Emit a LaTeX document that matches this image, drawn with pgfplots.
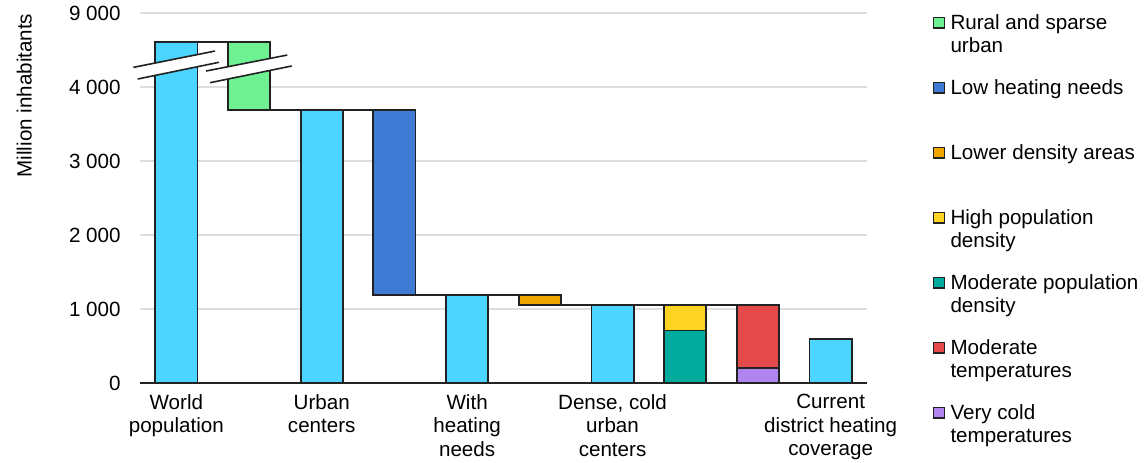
\documentclass[border=0pt]{standalone}
\usepackage{fontspec}
\setmainfont{Liberation Sans}
\usepackage{pgfplots}
\pgfplotsset{compat=1.18}
\usepackage{pgfplotstable}

\definecolor{totalcyan}{HTML}{4CD5FF}
\definecolor{ruralgreen}{HTML}{6EF193}
\definecolor{lowblue}{HTML}{3F7BD5}
\definecolor{densorange}{HTML}{F0A800}
\definecolor{highyellow}{HTML}{FDD423}
\definecolor{modteal}{HTML}{00AA9C}
\definecolor{tempred}{HTML}{E44A4A}
\definecolor{coldpurple}{HTML}{B086EE}
\definecolor{edge}{HTML}{222222}
\definecolor{gridgray}{HTML}{DEDEDE}

% Waterfall steps (million inhabitants; values above 4000 sit on the compressed
% part of the axis, where the top gridline stands for 9000)
\pgfplotstableread{
x base  total rural lowheat lowdens moddens highdens verycold modtemp
0 0     4610  0     0       0       0       0        0        0
1 3690  0     920   0       0       0       0        0        0
2 0     3690  0     0       0       0       0        0        0
3 1190  0     0     2500    0       0       0        0        0
4 0     1190  0     0       0       0       0        0        0
5 1050  0     0     0       140     0       0        0        0
6 0     1050  0     0       0       0       0        0        0
7 0     0     0     0       0       710     340      0        0
8 0     0     0     0       0       0       0        200      850
9 0     595   0     0       0       0       0        0        0
}\steps

\newcommand\entry[1]{\begin{tabular}[t]{@{}l@{}}#1\end{tabular}}

\begin{document}
\fontsize{10.3}{11.75}\selectfont
\begin{tikzpicture}
\begin{axis}[
  name=main,
  scale only axis, width=363.5pt, height=185pt,
  xmin=-0.5, xmax=9.5, ymin=0, ymax=5000,
  ybar stacked, bar width=0.58,
  reverse stacked plots=false,
  axis x line*=bottom, axis y line*=left,
  y axis line style={draw=none},
  x axis line style={draw=edge, line width=0.9pt},
  xtick={0,2,4,6,9},
  xticklabels={{World\\population},{Urban\\centers},{With\\heating\\needs},{Dense, cold\\urban\\centers},{Current\\district heating\\coverage}},
  xticklabel style={align=center, inner sep=0pt, yshift=-5.5pt},
  ytick={0,1000,2000,3000,4000,5000},
  yticklabels={0,1 000,2 000,3 000,4 000,9 000},
  yticklabel style={inner sep=0pt, xshift=-9.5pt},
  major tick length=0pt,
  ymajorgrids, major grid style={draw=gridgray, line width=0.9pt},
  clip=false,
  legend image code/.code={\draw[#1, line width=0.7pt] (0pt,0.6pt) rectangle (5.3pt,5.9pt);},
  legend style={at={(axis description cs:1.0908,1)}, anchor=north west,
    draw=none, fill=none, inner sep=0pt, outer sep=0pt,
    row sep=0pt, column sep=2.75pt,
    cells={anchor=base west},
    nodes={inner sep=0pt, text height=8pt, text depth=24.5pt, anchor=base west}},
  barstyle/.style={forget plot, draw=edge, line width=0.9pt, fill=#1},
  stepline/.style={forget plot, stack plots=false, sharp plot, no marks, draw=edge, line width=0.9pt},
]
% connectors between the steps
\addplot[stepline] coordinates {(0,4610) (1,4610)};
\addplot[stepline] coordinates {(1,3690) (3,3690)};
\addplot[stepline] coordinates {(3,1190) (5,1190)};
\addplot[stepline] coordinates {(5,1050) (8,1050)};
% stacked bars
\addplot[forget plot, draw=none, fill=none] table[x=x, y=base] {\steps};
\addplot[barstyle=totalcyan]  table[x=x, y=total]    {\steps};
\addplot[barstyle=ruralgreen] table[x=x, y=rural]    {\steps};
\addplot[barstyle=lowblue]    table[x=x, y=lowheat]  {\steps};
\addplot[barstyle=densorange] table[x=x, y=lowdens]  {\steps};
\addplot[barstyle=modteal]    table[x=x, y=moddens]  {\steps};
\addplot[barstyle=highyellow] table[x=x, y=highdens] {\steps};
\addplot[barstyle=coldpurple] table[x=x, y=verycold] {\steps};
\addplot[barstyle=tempred]    table[x=x, y=modtemp]  {\steps};
% axis break
\fill[white] (axis cs:-0.592,4265) -- (axis cs:0.532,4486) -- (axis cs:0.587,4334) -- (axis cs:-0.532,4108) -- cycle;
\fill[white] (axis cs:0.408,4216) -- (axis cs:1.526,4432) -- (axis cs:1.587,4284) -- (axis cs:0.463,4058) -- cycle;
\draw[edge, line width=0.8pt] (axis cs:-0.592,4265) -- (axis cs:0.532,4486);
\draw[edge, line width=0.8pt] (axis cs:-0.532,4108) -- (axis cs:0.587,4334);
\draw[edge, line width=0.8pt] (axis cs:0.408,4216) -- (axis cs:1.526,4432);
\draw[edge, line width=0.8pt] (axis cs:0.463,4058) -- (axis cs:1.587,4284);
% legend
\addlegendimage{fill=ruralgreen, draw=edge}\addlegendentry{\entry{Rural and sparse\\urban}}
\addlegendimage{fill=lowblue, draw=edge}\addlegendentry{\entry{Low heating needs}}
\addlegendimage{fill=densorange, draw=edge}\addlegendentry{\entry{Lower density areas}}
\addlegendimage{fill=highyellow, draw=edge}\addlegendentry{\entry{High population\\density}}
\addlegendimage{fill=modteal, draw=edge}\addlegendentry{\entry{Moderate population\\density}}
\addlegendimage{fill=tempred, draw=edge}\addlegendentry{\entry{Moderate\\temperatures}}
\addlegendimage{fill=coldpurple, draw=edge}\addlegendentry{\entry{Very cold\\temperatures}}
\node[rotate=90, anchor=base] at (axis description cs:-0.149,0.777) {Million inhabitants};
\end{axis}
\pgfresetboundingbox
\path[use as bounding box] ([shift={(-70pt,-39.5pt)}]main.south west) rectangle ([shift={(502.5pt,191.5pt)}]main.south west);
\end{tikzpicture}
\end{document}
